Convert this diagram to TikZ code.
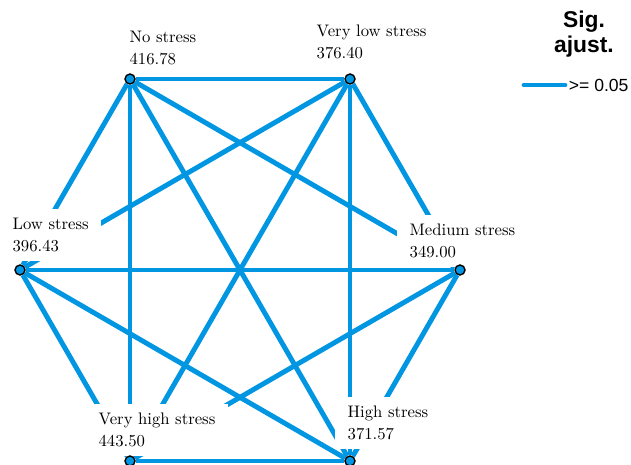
\documentclass[tikz,border=0pt]{standalone}
\usepackage{fontspec}
\newfontfamily\legendfont{Liberation Sans}
\usepackage{tikz}
\usetikzlibrary{positioning,backgrounds}
\definecolor{sigblue}{RGB}{0,150,225}

\begin{document}
\begin{tikzpicture}[
    x=0.02cm,
    y=-0.02cm,
    mydot/.style={
      circle,
      draw=black,
      fill=sigblue,
      line width=0.8pt,
      inner sep=0pt,
      minimum size=0.2cm
    },
    grouplabel/.style={
      fill=white,
      align=left,
      anchor=north west,
      inner xsep=7pt,
      inner ysep=5pt,
      font=\fontsize{9.5}{12.5}\selectfont
    },
    link/.style={
      draw=sigblue,
      line width=2.8pt
    }
    ]
    \useasboundingbox (0,0) rectangle (631,465);

    % group labels (white boxes hide the links behind them)
    \node[grouplabel] (nslab) at (117,22) {No stress\\416.78};
    \node[grouplabel] (vlslab) at (304,16) {Very low stress\\376.40};
    \node[grouplabel] (lslab) at (0,209) {Low stress\\396.43};
    \node[grouplabel] (mslab) at (397,215) {Medium stress\\349.00};
    \node[grouplabel] (vhslab) at (86,404) {Very high stress\\443.50};
    \node[grouplabel] (hslab) at (335,397) {High stress\\371.57};

    % groups
    \node[mydot] (ns) at (130,79) {};
    \node[mydot] (vls) at (350,79) {};
    \node[mydot] (ls) at (20,270) {};
    \node[mydot] (ms) at (460,270) {};
    \node[mydot] (vhs) at (130,461) {};
    \node[mydot] (hs) at (350,461) {};

    % pairwise comparisons
    \begin{pgfonlayer}{background}
    \foreach \a/\b in {ns/vls, ns/ls, ns/ms, ns/vhs, ns/hs,
                       vls/ls, vls/ms, vls/vhs, vls/hs,
                       ls/ms, ls/vhs, ls/hs,
                       ms/vhs, ms/hs,
                       vhs/hs}
      \path[link] (\a) -- (\b);
    \end{pgfonlayer}

    % legend
    \node[font=\legendfont\bfseries\fontsize{13}{14.5}\selectfont,
      align=center] (sigtitle) at (584,34) {Sig.\\ajust.};
    \coordinate (legstart) at (524,85);
    \coordinate[right=0.82cm of legstart] (legend) {};
    \draw[link, line cap=round] (legstart) -- (legend);
    \node[right=1pt of legend, inner sep=1pt,
      font=\legendfont\fontsize{10}{12}\selectfont] (legtext) {>= 0.05};
\end{tikzpicture}
\end{document}
